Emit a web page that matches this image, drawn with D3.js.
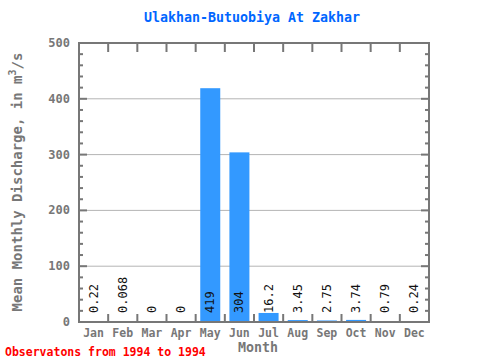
<!DOCTYPE html>
<html><head><meta charset="utf-8">
<script src="https://cdn.jsdelivr.net/npm/d3@7"></script>
<style>body{margin:0;background:#fff}svg{display:block}text{font-family:"DejaVu Sans Mono","Liberation Mono",monospace}</style>
</head><body><svg id="c" width="480" height="360"></svg>
<script>
const months = ["Jan","Feb","Mar","Apr","May","Jun","Jul","Aug","Sep","Oct","Nov","Dec"];
const values = [0.22,0.068,0,0,419,304,16.2,3.45,2.75,3.74,0.79,0.24];
const labels = ["0.22","0.068","0","0","419","304","16.2","3.45","2.75","3.74","0.79","0.24"];
const yTicks = [0,100,200,300,400,500];

const svg = d3.select("#c");
const L=79,R=429,T=43,B=322;
const x = d3.scaleBand().domain(months).range([L,R]);
const y = d3.scaleLinear().domain([0,500]).range([B,T]);
const grey="#777";

svg.append("g").selectAll("line").data(yTicks.filter(d=>d>0&&d<500)).join("line")
  .attr("x1",L).attr("x2",R).attr("y1",d=>y(d)).attr("y2",d=>y(d))
  .attr("stroke","#b4b4b4").attr("stroke-width",1);

svg.append("g").selectAll("rect").data(values).join("rect")
  .attr("x",(d,i)=>x(months[i])+x.bandwidth()/2-10).attr("width",20)
  .attr("y",d=>y(d)).attr("height",d=>B-y(d)).attr("fill","#3399ff");

const minor = d3.range(0,501,20);
["L","R"].forEach(side=>{
  svg.append("g").selectAll("line").data(minor).join("line")
    .attr("x1",side==="L"?L:R).attr("x2",d=>side==="L"?L+(d%100===0?8:4):R-(d%100===0?8:4))
    .attr("y1",d=>y(d)).attr("y2",d=>y(d)).attr("stroke",grey).attr("stroke-width",2);
});
const bounds = months.slice(1).map(m=>x(m));
svg.append("g").selectAll("line").data(bounds).join("line")
  .attr("x1",d=>d).attr("x2",d=>d).attr("y1",T).attr("y2",T+9).attr("stroke",grey).attr("stroke-width",2);
svg.append("g").selectAll("line").data(bounds).join("line")
  .attr("x1",d=>d).attr("x2",d=>d).attr("y1",B).attr("y2",B-8).attr("stroke",grey).attr("stroke-width",2);

svg.append("rect").attr("x",L).attr("y",T).attr("width",R-L).attr("height",B-T)
  .attr("fill","none").attr("stroke",grey).attr("stroke-width",2);

svg.append("g").selectAll("text").data(yTicks).join("text")
  .attr("x",70).attr("y",d=>y(d)+4).attr("text-anchor","end")
  .attr("font-size",12).attr("font-weight","bold").attr("fill",grey).text(d=>d);

svg.append("g").selectAll("text").data(months).join("text")
  .attr("x",d=>x(d)+x.bandwidth()/2).attr("y",337).attr("text-anchor","middle")
  .attr("font-size",11.5).attr("font-weight","bold").attr("fill",grey).text(d=>d);

svg.append("g").selectAll("text").data(labels).join("text")
  .attr("transform",(d,i)=>`translate(${x(months[i])+x.bandwidth()/2+4},313) rotate(-90)`)
  .attr("font-size",12).attr("fill","#111").text(d=>d);

svg.append("text").attr("x",252).attr("y",22).attr("text-anchor","middle")
  .attr("font-size",13.3).attr("font-weight","bold").attr("fill","#0066ff").text("Ulakhan-Butuobiya At Zakhar");

svg.append("text").attr("x",258).attr("y",352).attr("text-anchor","middle")
  .attr("font-size",13.3).attr("font-weight","bold").attr("fill",grey).text("Month");

const yt = svg.append("text").attr("transform","translate(22,182) rotate(-90)").attr("text-anchor","middle")
  .attr("font-size",14).attr("font-weight","bold").attr("fill",grey);
yt.append("tspan").text("Mean Monthly Discharge, in  m");
yt.append("tspan").attr("font-size",10).attr("dy",-6).text("3");
yt.append("tspan").attr("dy",6).text("/s");

svg.append("text").attr("x",5).attr("y",356).attr("font-size",11.5).attr("font-weight","bold")
  .attr("fill","#ff0000").text("Observatons from 1994 to 1994");
</script></body></html>
